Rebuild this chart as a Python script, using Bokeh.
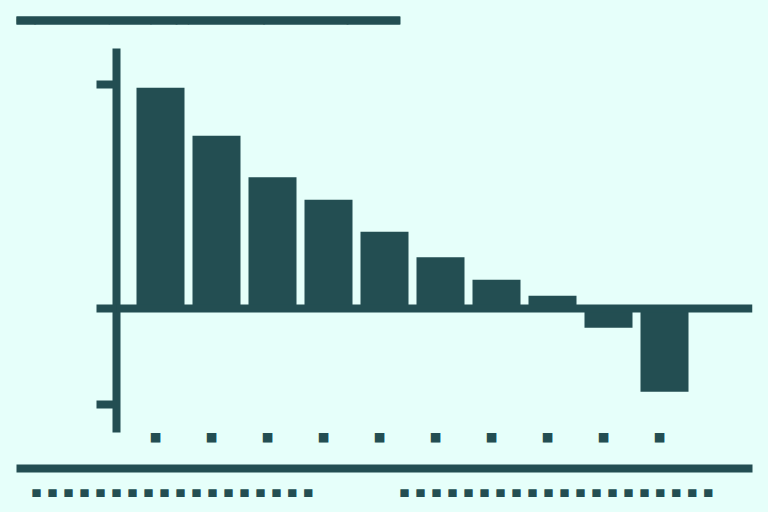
from bokeh.plotting import figure
from bokeh.layouts import column
from bokeh.models import Range1d, FixedTicker, Span, Label, BoxAnnotation
from bokeh.embed import file_html
from bokeh.resources import INLINE

# ---- data ----
categories = ["A", "B", "C", "D", "E", "F", "G", "H", "I", "J"]
values = [69, 54, 41, 34, 24, 16, 9, 4, -6, -26]
y_ticks = [-30, 0, 70]
x_tick_labels = ["■\u00a0"] * len(categories)
title_text = "Change in share of respondents by category, sorted from largest increase to largest decrease"
note_left = "▄ ▄ ▄ ▄ ▄ ▄ ▄ ▄ ▄ ▄ ▄ ▄ ▄ ▄ ▄ ▄ ▄ ▄"
note_right = "▄ ▄ ▄ ▄ ▄ ▄ ▄ ▄ ▄ ▄ ▄ ▄ ▄ ▄ ▄ ▄ ▄ ▄ ▄ ▄"

# ---- style ----
BG = "#E6FFFA"
DARK = "#234E52"
MONO = "DejaVu Sans Mono"
W = 768


def blank_fig(h):
    f = figure(width=W, height=h, x_range=Range1d(0, W), y_range=Range1d(h, 0),
               output_backend="svg", toolbar_location=None, title=None,
               x_axis_location=None, y_axis_location=None,
               min_border=0, min_border_left=0, min_border_right=0,
               min_border_top=0, min_border_bottom=0,
               background_fill_color=BG, border_fill_color=BG,
               outline_line_color=None, frame_align=False)
    f.xgrid.visible = False
    f.ygrid.visible = False
    return f


# ---- title strip ----
top = blank_fig(40)
top.add_layout(BoxAnnotation(left=16, right=400, top=16, bottom=24,
                             fill_color=DARK, fill_alpha=1.0, line_color=None))
title_px = 384 / (0.60205 * len(title_text))
top.add_layout(Label(x=16, y=24, text=title_text,
                     text_align="left", text_baseline="bottom",
                     text_font=MONO, text_font_size=f"{title_px:.2f}px",
                     text_color=DARK, background_fill_color=DARK,
                     background_fill_alpha=1.0))

# ---- main chart ----
xs = list(range(len(categories)))
p = figure(width=W, height=416,
           x_range=Range1d(-44 / 56, 592 / 56),
           y_range=Range1d(-38.75, 81.25),
           output_backend="svg", toolbar_location=None, title=None,
           min_border_left=116, min_border_right=16,
           min_border_top=8, min_border_bottom=24,
           background_fill_color=BG, border_fill_color=BG,
           outline_line_color=None, frame_align=False)

p.vbar(x=xs, top=values, bottom=0, width=48 / 56, fill_color=DARK, line_color=None)
p.xgrid.visible = False
p.ygrid.visible = False

xa = p.xaxis[0]
xa.ticker = FixedTicker(ticks=xs)
xa.major_label_overrides = {i: lab for i, lab in zip(xs, x_tick_labels)}
xa.axis_line_color = None
xa.major_tick_line_color = None
xa.minor_tick_line_color = None
xa.major_label_standoff = -12
xa.major_label_text_font = MONO
xa.major_label_text_font_size = "16px"
xa.major_label_text_color = DARK

ya = p.yaxis[0]
ya.ticker = FixedTicker(ticks=y_ticks)
ya.major_label_overrides = {t: "" for t in y_ticks}
ya.axis_line_width = 8
ya.axis_line_color = DARK
ya.major_tick_line_width = 8
ya.major_tick_line_color = DARK
ya.major_tick_out = 20
ya.major_tick_in = 0
ya.minor_tick_line_color = None

p.add_layout(Span(location=0, dimension="width", line_color=DARK, line_width=8))

# ---- footer strip ----
foot = blank_fig(56)
foot.add_layout(BoxAnnotation(left=16, right=752, top=8, bottom=16,
                              fill_color=DARK, fill_alpha=1.0, line_color=None))
for txt, fx in ((note_left, 32), (note_right, 400)):
    foot.add_layout(Label(x=fx, y=33, text=txt,
                          text_align="left", text_baseline="alphabetic",
                          text_font=MONO, text_font_size="13.29px",
                          text_color=DARK))

layout = column(top, p, foot, spacing=0)

html = file_html(layout, INLINE, title="chart")
html = html.replace("</head>", "<style>html,body{background:#E6FFFA;overflow:hidden;}</style></head>")
open("out.html", "w").write(html)
